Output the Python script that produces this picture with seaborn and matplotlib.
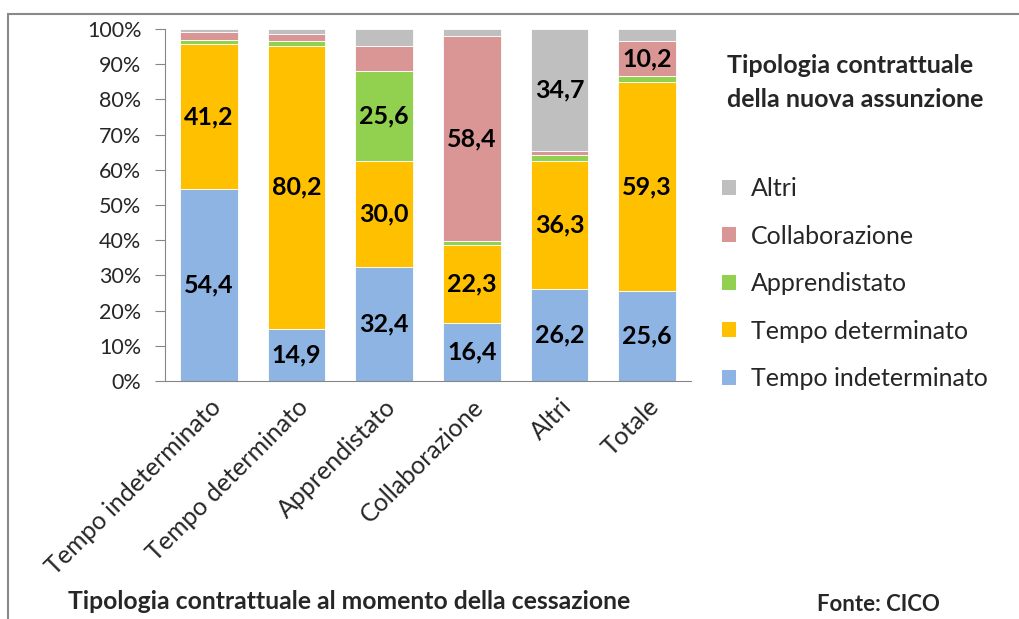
import numpy as np
import seaborn as sns
import matplotlib.pyplot as plt
from matplotlib.patches import Rectangle, Patch

# categories (contract type at termination)
categories = ["Tempo indeterminato", "Tempo determinato", "Apprendistato",
              "Collaborazione", "Altri", "Totale"]

# new hire contract type (percent)
tempo_indet = [54.4, 14.9, 32.4, 16.4, 26.2, 25.6]
tempo_det = [41.2, 80.2, 30.0, 22.3, 36.3, 59.3]
apprendistato = [1.2, 1.4, 25.6, 1.0, 1.6, 1.6]
collaborazione = [2.4, 2.0, 7.1, 58.4, 1.2, 10.2]
altri = [0.8, 1.5, 4.9, 1.9, 34.7, 3.3]

series_names = ["Tempo indeterminato", "Tempo determinato", "Apprendistato",
                "Collaborazione", "Altri"]
series_vals = [tempo_indet, tempo_det, apprendistato, collaborazione, altri]
colors = ["#8EB4E3", "#FFC000", "#92D050", "#D99694", "#BFBFBF"]

sns.set_style("white")
plt.rcParams['font.family'] = ['Lato', 'DejaVu Sans']

fig = plt.figure(figsize=(10.19, 6.19), dpi=100)
ax = fig.add_axes([0.1619, 0.3845, 0.5162, 0.5687])

bottom = np.zeros(len(categories))
for name, vals, c in zip(series_names, series_vals, colors):
    vals = np.array(vals)
    sns.barplot(x=categories, y=vals, bottom=bottom, color=c, width=0.66,
                saturation=1, edgecolor="white", linewidth=0.6, ax=ax)
    for i, v in enumerate(vals):
        if v >= 10:
            ax.text(i, bottom[i] + v / 2, f"{v:.1f}".replace(".", ","),
                    ha="center", va="center", fontsize=18, fontweight="bold",
                    color="black")
    bottom += vals

ax.set_xlim(-0.5, len(categories) - 0.5)
ax.set_ylim(0, 100)
ax.set_yticks(range(0, 101, 10))
ax.set_yticklabels([f"{t}%" for t in range(0, 101, 10)], fontsize=15.5)
ax.set_xticks(np.arange(len(categories) + 1) - 0.5, minor=False)
ax.set_xticks(range(len(categories)), minor=True)
ax.set_xticklabels([])
ax.set_xticklabels(categories, minor=True, rotation=45, ha="right",
                   va="top", rotation_mode="anchor", fontsize=18)
ax.tick_params(axis="x", which="minor", length=0, pad=10)
ax.tick_params(axis="x", which="major", length=7, color="#868686", direction="out")
ax.tick_params(axis="y", length=7, color="#868686", direction="out", left=True, pad=10)
for s in ["top", "right"]:
    ax.spines[s].set_visible(False)
for s in ["left", "bottom"]:
    ax.spines[s].set_color("#868686")
ax.set_xlabel("")
ax.set_ylabel("")

# legend (reversed order as in the original)
handles = [Patch(facecolor=c, edgecolor="none") for c in colors][::-1]
fig.legend(handles, series_names[::-1], loc="upper left",
           bbox_to_anchor=(0.7085, 0.714), frameon=False, fontsize=18,
           handlelength=0.55, handleheight=0.55, handletextpad=0.6,
           labelspacing=0.98, borderaxespad=0, borderpad=0)

fig.text(0.713, 0.867, "Tipologia contrattuale\ndella nuova assunzione",
         ha="left", va="center", fontsize=18, fontweight="bold", linespacing=1.55)
fig.text(0.343, 0.029, "Tipologia contrattuale al momento della cessazione",
         ha="center", va="center", fontsize=17.8, fontweight="bold")
fig.text(0.862, 0.024, "Fonte: CICO", ha="center", va="center",
         fontsize=16, fontweight="bold")

# outer frame
fig.patches.append(Rectangle((8 / 1019, -0.1), 1.2, 1.1 - 14 / 619,
                             transform=fig.transFigure, fill=False,
                             edgecolor="#898989", linewidth=1.5))

fig.savefig("out.png", dpi=100)
